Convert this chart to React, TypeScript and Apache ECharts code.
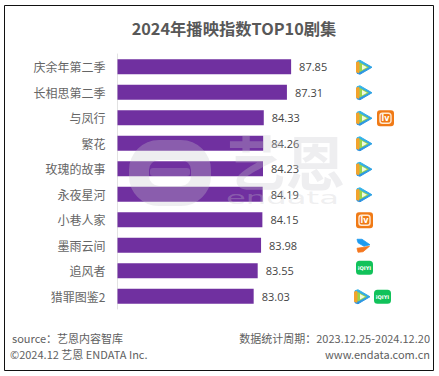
import React, { useEffect, useRef } from "react";
import * as echarts from "echarts";

const titleText = "2024年播映指数TOP10剧集";
const categories = ["庆余年第二季", "长相思第二季", "与凤行", "繁花", "玫瑰的故事", "永夜星河", "小巷人家", "墨雨云间", "追风者", "猎罪图鉴2"];
const values = [87.85, 87.31, 84.33, 84.26, 84.23, 84.19, 84.15, 83.98, 83.55, 83.03];
const platforms = [["tencent"], ["tencent"], ["tencent", "mango"], ["tencent"], ["tencent"], ["tencent"], ["mango"], ["youku"], ["iqiyi"], ["tencent", "iqiyi"]];
const footerLeft = ["source：艺恩内容智库", "©2024.12 艺恩 ENDATA Inc."];
const footerRight = ["数据统计周期：2023.12.25-2024.12.20", "www.endata.com.cn"];

const FONT = "'Noto Sans CJK SC', 'Noto Sans', sans-serif";

function tencentIcon(x: number, y: number) {
  const rim = new echarts.graphic.LinearGradient(0, 0, 0, 1, [
    { offset: 0, color: "#35b6e8" },
    { offset: 1, color: "#2a8fe0" },
  ]);
  const round = { lineJoin: "round" };
  return [
    { type: "polygon", shape: { points: [[x + 1, y - 6], [x + 4, y - 7], [x + 16, y], [x + 4, y + 7], [x + 1, y + 6]] }, style: { fill: rim, stroke: rim, lineWidth: 1, ...round } },
    { type: "polygon", shape: { points: [[x, y - 5], [x + 3, y - 6], [x + 5, y], [x + 3, y + 6], [x, y + 5]] }, style: { fill: "#f2a32c" } },
    { type: "polygon", shape: { points: [[x + 3.5, y - 5], [x + 13, y], [x + 3.5, y + 5]] }, style: { fill: "#9bd44a" } },
    { type: "polygon", shape: { points: [[x + 6, y - 2.8], [x + 11, y], [x + 6, y + 2.8]] }, style: { fill: "#f1fae0" } },
  ];
}
function mangoIcon(x: number, y: number) {
  return [
    { type: "rect", shape: { x, y: y - 8, width: 17, height: 16, r: 3 }, style: { fill: "#f07a16" } },
    { type: "rect", shape: { x: x + 3, y: y - 5, width: 11, height: 10, r: 2.5 }, style: { fill: "none", stroke: "#ffe9d2", lineWidth: 1.4 } },
    { type: "text", style: { x: x + 8.5, y, text: "lv", fill: "#ffffff", font: "bold 8px 'DejaVu Sans'", align: "center", verticalAlign: "middle" } },
  ];
}
function iqiyiIcon(x: number, y: number) {
  return [
    { type: "rect", shape: { x, y: y - 7, width: 17, height: 14, r: 3.5 }, style: { fill: "#11c25a" } },
    { type: "text", style: { x: x + 8.5, y, text: "iQIYI", fill: "#ffffff", font: "bold 5px 'DejaVu Sans'", align: "center", verticalAlign: "middle" } },
  ];
}
function youkuIcon(x: number, y: number) {
  return [
    { type: "polygon", shape: { points: [[x + 1, y - 6.5], [x + 6, y - 6.5], [x + 14, y - 1], [x + 8, y + 0.5], [x + 2, y - 3]] }, style: { fill: "#1e9bf0", stroke: "#1e9bf0", lineWidth: 0.8, lineJoin: "round" } },
    { type: "polygon", shape: { points: [[x + 1, y + 2.5], [x + 8, y + 1.5], [x + 13.5, y + 0.5], [x + 7, y + 6], [x + 2, y + 6.5]] }, style: { fill: "#f5771f", stroke: "#f5771f", lineWidth: 0.8, lineJoin: "round" } },
  ];
}
const iconDraw: Record<string, (x: number, y: number) => any[]> = { tencent: tencentIcon, mango: mangoIcon, iqiyi: iqiyiIcon, youku: youkuIcon };

function watermark() {
  const ink = "rgba(200,200,205,0.30)";
  const ink2 = "rgba(205,205,210,0.22)";
  return [
    { type: "rect", shape: { x: 139, y: 150, width: 62, height: 46, r: 20 }, style: { fill: "none", stroke: ink, lineWidth: 20 }, z: 20, silent: true },
    { type: "rect", shape: { x: 150, y: 168, width: 40, height: 8, r: 3 }, style: { fill: ink2 }, z: 20, silent: true },
    { type: "text", x: 227, y: 131, style: { text: "艺恩", fill: ink, font: "bold 59px 'Noto Sans CJK SC'" }, z: 20, silent: true },
    { type: "text", x: 226, y: 190, style: { text: "endata", fill: ink, font: "17px 'DejaVu Sans'" }, scaleX: 1.9, z: 20, silent: true },
  ];
}

function footerText(text: string, x: number, y: number, align: string) {
  return { type: "text", x, y, style: { text, fill: "#606060", font: `11px ${FONT}`, align, verticalAlign: "middle" } };
}

export default function App() {
  const ref = useRef<HTMLDivElement>(null);
  useEffect(() => {
    const chart = echarts.init(ref.current!, undefined, { renderer: "svg" });
    chart.setOption({
      animation: false,
      backgroundColor: "#ffffff",
      title: { text: titleText, left: 229, top: 15, textAlign: "center", textStyle: { fontFamily: FONT, fontSize: 16.3, fontWeight: "bold", color: "#585858" } },
      grid: { left: 117.5, top: 54, width: 268, height: 255, containLabel: false },
      xAxis: { type: "value", min: 65.5, max: 100, show: false },
      yAxis: {
        type: "category",
        inverse: true,
        data: categories,
        axisLine: { lineStyle: { color: "#e2e2e2", width: 1 } },
        axisTick: { show: false },
        axisLabel: { color: "#666666", fontFamily: FONT, fontSize: 12, margin: 12 },
      },
      series: [
        {
          type: "bar",
          data: values,
          barWidth: 15,
          itemStyle: { color: "#7030a0" },
          label: { show: true, position: "right", distance: 8, color: "#444444", fontFamily: "'Open Sans'", fontSize: 11, formatter: (p: any) => p.value.toFixed(2) },
        },
        {
          type: "custom",
          data: platforms.map((_, i) => [65.5, i]),
          encode: { x: 0, y: 1 },
          silent: true,
          renderItem: (params: any, api: any) => {
            const idx = params.dataIndex;
            const center = api.coord([65.5, idx])[1];
            const list = platforms[idx];
            const children: any[] = [];
            list.forEach((name, i) => {
              const paired = list.length > 1;
              const x = (paired && list[1] === "iqiyi" ? 354 : 356) + i * (name === "iqiyi" ? 20 : 21);
              const y = name === "iqiyi" && !paired ? center - 3 : center + 0.5;
              children.push(...iconDraw[name](x, y));
            });
            return { type: "group", children };
          },
        },
      ],
      graphic: [
        { type: "rect", shape: { x: 4.5, y: 5.5, width: 429, height: 365 }, style: { fill: "none", stroke: "#111111", lineWidth: 1 } },
        ...watermark(),
        footerText(footerLeft[0], 12, 338, "left"),
        footerText(footerLeft[1], 10, 354, "left"),
        footerText(footerRight[0], 430, 338, "right"),
        footerText(footerRight[1], 430, 354, "right"),
      ],
    });
    return () => chart.dispose();
  }, []);
  return <div ref={ref} style={{ width: 439, height: 376, position: "absolute", left: 0, top: 0 }} />;
}
